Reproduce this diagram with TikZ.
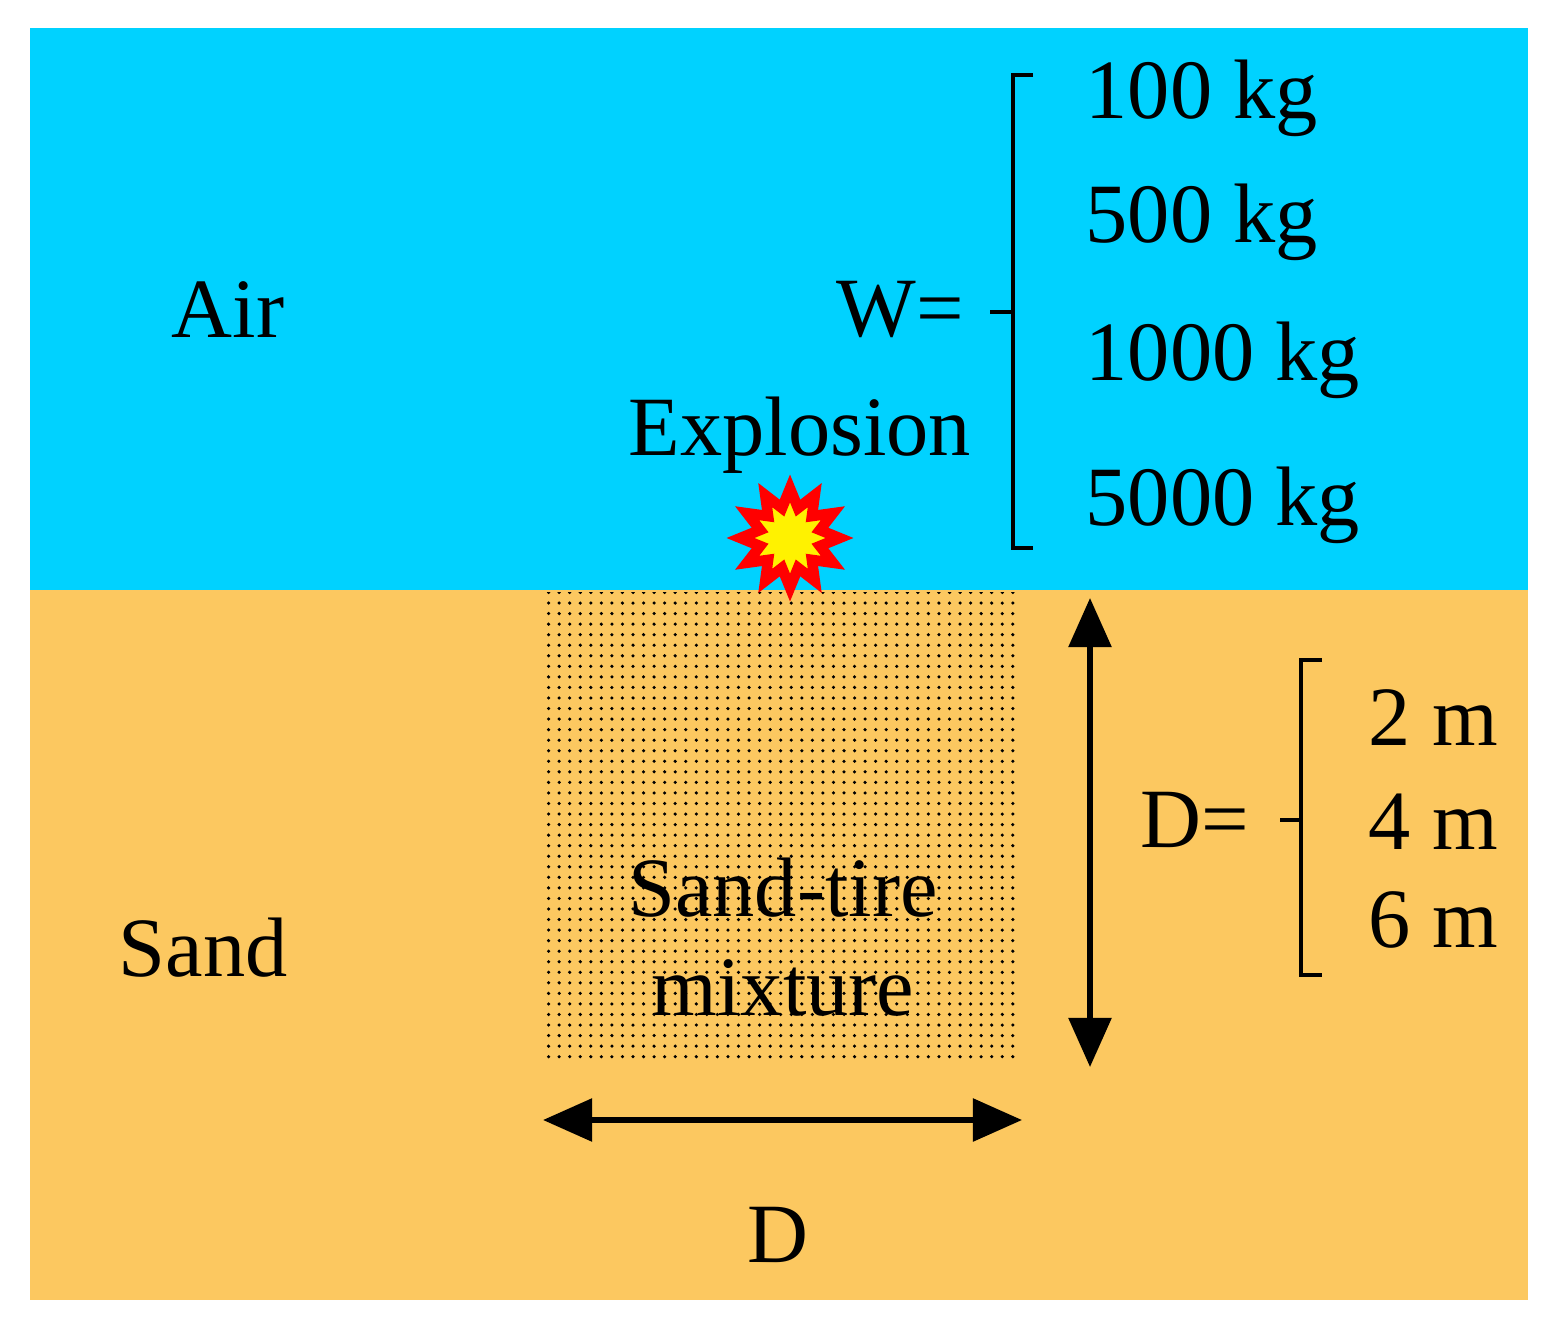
\documentclass[tikz,border=0pt]{standalone}
\usepackage{fontspec}
\setmainfont{Liberation Serif}
\usetikzlibrary{patterns,shapes.geometric,arrows.meta}
\definecolor{skyc}{RGB}{0,210,255}
\definecolor{sandc}{RGB}{252,200,96}
\tikzset{lbl/.style={font=\fontsize{24}{28}\selectfont,inner sep=0pt},
 dimarrow/.style={line width=1.6pt,{Triangle[length=14pt,width=12pt]}-{Triangle[length=14pt,width=12pt]}},
 bracket/.style={line width=0.9pt}}
\begin{document}
\begin{tikzpicture}[x=0.01cm,y=-0.01cm]
\useasboundingbox (0,0) rectangle (1546,1331);
\fill[white] (0,0) rectangle (1546,1331);
\fill[skyc] (30,28) rectangle (1528,590);
\fill[sandc] (30,590) rectangle (1528,1300);
\fill[pattern=dots] (545,592) rectangle (1020,1062);
\node[lbl] (air) at (228,310) {Air};
\node[lbl] (sand) at (203,948) {Sand};
\node[lbl] (expl) at (800,435) {Explosion};
\node[star,star points=12,star point ratio=1.6,minimum size=105pt*0.0,inner sep=0pt,minimum width=3cm,fill=yellow,draw=red,line width=3pt,scale=0.33] (boom) at (790,538) {};
\node[lbl] (weq) at (900,310) {W=};
\draw[bracket] (1033,75) -- (1013,75) -- (1013,548) -- (1033,548) (1013,312) -- (990,312);
\node[lbl,anchor=west] (w1) at (1085,98) {100 kg};
\node[lbl,anchor=west] (w2) at (1085,222) {500 kg};
\node[lbl,anchor=west] (w3) at (1085,360) {1000 kg};
\node[lbl,anchor=west] (w4) at (1085,505) {5000 kg};
\node[lbl,align=center] (mix) at (783,937) {Sand-tire\\mixture};
\coordinate (vt) at (1090,598);
\coordinate (vb) at (1090,1067);
\draw[dimarrow] (vt) -- (vb);
\coordinate (hl) at (543,1120);
\coordinate (hr) at (1022,1120);
\draw[dimarrow] (hl) -- (hr);
\node[lbl] (dlab) at (778,1235) {D};
\node[lbl] (deq) at (1195,820) {D=};
\draw[bracket] (1322,660) -- (1301,660) -- (1301,975) -- (1322,975) (1301,820) -- (1280,820);
\node[lbl,anchor=west] (d1) at (1368,718) {2 m};
\node[lbl,anchor=west] (d2) at (1368,822) {4 m};
\node[lbl,anchor=west] (d3) at (1368,920) {6 m};
\end{tikzpicture}
\end{document}
